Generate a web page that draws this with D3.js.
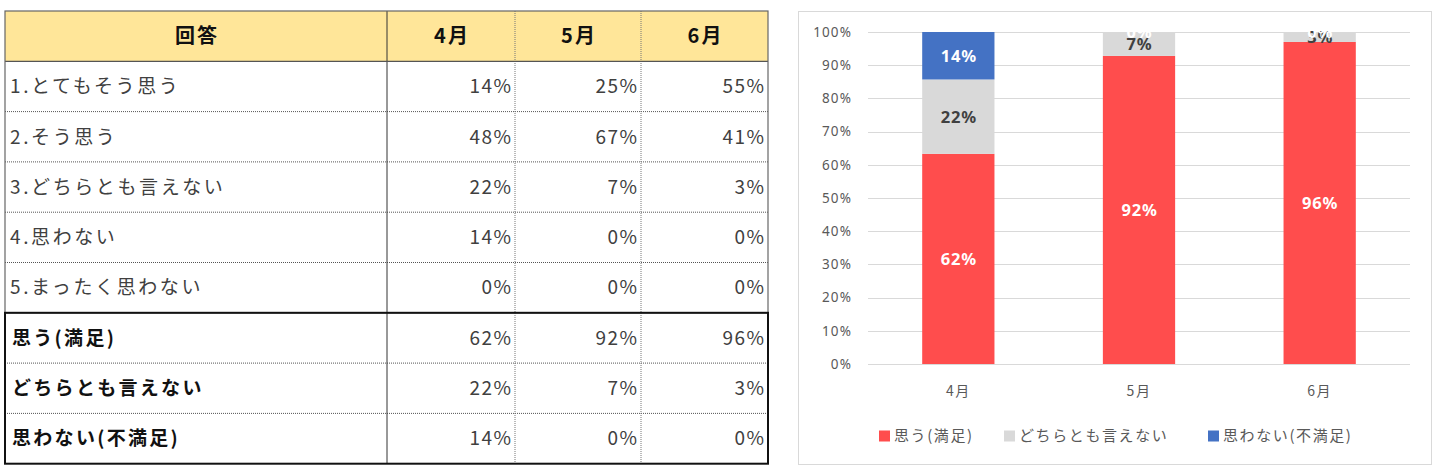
<!DOCTYPE html>
<html><head><meta charset="utf-8">
<script src="https://cdn.jsdelivr.net/npm/d3@7"></script>
<style>body{margin:0;background:#fff;}svg{display:block;}</style>
</head><body>
<svg id="c" width="1440" height="473"></svg>
<script>
// ---- data ----
const months = ["4月", "5月", "6月"];
const tableHeader = "回答";
const rowLabels = ["1.とてもそう思う", "2.そう思う", "3.どちらとも言えない", "4.思わない", "5.まったく思わない"];
const rowValues = [[14, 25, 55], [48, 67, 41], [22, 7, 3], [14, 0, 0], [0, 0, 0]];
const sumLabels = ["思う(満足)", "どちらとも言えない", "思わない(不満足)"];
const sumValues = [[62, 92, 96], [22, 7, 3], [14, 0, 0]];
const seriesNames = ["思う(満足)", "どちらとも言えない", "思わない(不満足)"];
const barValues = [[63.3, 92.8, 97.0], [22.4, 7.2, 3.0], [14.3, 0, 0]]; // bar heights as drawn
const barLabels = [["62%", "92%", "96%"], ["22%", "7%", "3%"], ["14%", "0%", "0%"]];
const yTicks = [0, 10, 20, 30, 40, 50, 60, 70, 80, 90, 100];
const colors = ["#FF4D4D", "#D9D9D9", "#4472C4"];
const labelColors = ["#fff", "#404040", "#fff"];

const svg = d3.select("#c");
const jp = "'Noto Sans CJK JP','Noto Sans',sans-serif";

// ---- table ----
const colX = [5, 387, 515, 641, 768];
const rowY = d3.range(0, 10).map(i => 11 + i * 50.3);
const T = svg.append("g");
T.append("rect").attr("x", colX[0]).attr("y", rowY[0]).attr("width", colX[4] - colX[0]).attr("height", rowY[1] - rowY[0]).attr("fill", "#FFE699");
// header texts
T.append("text").attr("x", (colX[0] + colX[1]) / 2 + 1).attr("y", (rowY[0] + rowY[1]) / 2).attr("dy", "0.36em")
  .attr("text-anchor", "middle").attr("font-family", jp).attr("font-weight", "bold").attr("font-size", 20).attr("letter-spacing", 2)
  .attr("fill", "#111").text(tableHeader);
months.forEach((m, j) => T.append("text").attr("x", (colX[j + 1] + colX[j + 2]) / 2 + 1).attr("y", (rowY[0] + rowY[1]) / 2).attr("dy", "0.36em")
  .attr("text-anchor", "middle").attr("font-family", jp).attr("font-weight", "bold").attr("font-size", 20).attr("letter-spacing", 2)
  .attr("fill", "#111").text(m));
const allLabels = rowLabels.concat(sumLabels);
const allValues = rowValues.concat(sumValues);
allLabels.forEach((lab, i) => {
  const bold = i >= rowLabels.length;
  const cy = (rowY[i + 1] + rowY[i + 2]) / 2;
  T.append("text").attr("x", colX[0] + (bold ? 7 : 5)).attr("y", cy).attr("dy", "0.36em")
    .attr("font-family", jp).attr("font-size", 19).attr("letter-spacing", bold ? 2.3 : 2.6).attr("font-weight", bold ? "bold" : "normal")
    .attr("fill", bold ? "#111" : "#404040").text(lab);
  allValues[i].forEach((v, j) => T.append("text").attr("x", colX[j + 2] - 4 + 1.5).attr("y", cy).attr("dy", "0.36em")
    .attr("text-anchor", "end").attr("font-family", jp).attr("font-size", 19).attr("letter-spacing", 1.5)
    .attr("fill", "#404040").text(v + "%"));
});
// horizontal dotted lines
for (let i = 2; i < 9; i++) {
  if (i === 6) continue;
  T.append("line").attr("x1", colX[0]).attr("x2", colX[4]).attr("y1", rowY[i]).attr("y2", rowY[i])
    .attr("stroke", "#555").attr("stroke-width", 1).attr("stroke-dasharray", "1,1");
}
// vertical dotted lines between months
[colX[2], colX[3]].forEach(x => T.append("line").attr("x1", x).attr("x2", x).attr("y1", rowY[0]).attr("y2", rowY[9])
  .attr("stroke", "#777").attr("stroke-width", 1).attr("stroke-dasharray", "1,1"));
// solid lines
T.append("line").attr("x1", colX[1]).attr("x2", colX[1]).attr("y1", rowY[0]).attr("y2", rowY[9]).attr("stroke", "#333").attr("stroke-width", 1);
T.append("line").attr("x1", colX[0]).attr("x2", colX[4]).attr("y1", rowY[1]).attr("y2", rowY[1]).attr("stroke", "#555").attr("stroke-width", 1.2);
T.append("rect").attr("x", colX[0]).attr("y", rowY[0]).attr("width", colX[4] - colX[0]).attr("height", rowY[6] - rowY[0])
  .attr("fill", "none").attr("stroke", "#666").attr("stroke-width", 1.2);
T.append("rect").attr("x", colX[0]).attr("y", rowY[6]).attr("width", colX[4] - colX[0]).attr("height", rowY[9] - rowY[6])
  .attr("fill", "none").attr("stroke", "#111").attr("stroke-width", 2);

// ---- chart ----
svg.append("rect").attr("x", 798.5).attr("y", 11.5).attr("width", 633).attr("height", 453)
  .attr("fill", "#fff").attr("stroke", "#D9D9D9").attr("stroke-width", 1);
const x = d3.scaleBand().domain(months).range([868, 1410]).paddingInner(0.6).paddingOuter(0.3);
const y = d3.scaleLinear().domain([0, 100]).range([364, 32]);
const G = svg.append("g");
G.selectAll("line.grid").data(yTicks).join("line").attr("class", "grid")
  .attr("x1", 868).attr("x2", 1410).attr("y1", d => Math.round(y(d)) + 0.5).attr("y2", d => Math.round(y(d)) + 0.5)
  .attr("stroke", "#D9D9D9").attr("stroke-width", 1);
const yAxis = G.append("g").attr("transform", "translate(868,0)")
  .call(d3.axisLeft(y).tickValues(yTicks).tickFormat(d => d + "%").tickSize(0).tickPadding(16));
yAxis.select(".domain").remove();
yAxis.selectAll("text").attr("font-family", "'Noto Sans',sans-serif").attr("font-size", 13.5).attr("letter-spacing", 1.1).attr("fill", "#595959");
const xAxis = G.append("g").attr("transform", "translate(0,364)")
  .call(d3.axisBottom(x).tickSize(0).tickPadding(22));
xAxis.select(".domain").remove();
xAxis.selectAll("text").attr("font-family", jp).attr("font-size", 14).attr("letter-spacing", 1.5).attr("fill", "#595959");

const stack = d3.stack().keys([0, 1, 2]).value((d, k) => barValues[k][d]);
const stacked = stack(d3.range(months.length));
stacked.forEach((layer, k) => {
  G.append("g").selectAll("rect").data(layer).join("rect")
    .attr("x", (d, i) => x(months[i])).attr("width", x.bandwidth())
    .attr("y", d => y(d[1])).attr("height", d => y(d[0]) - y(d[1])).attr("fill", colors[k]);
});
stacked.forEach((layer, k) => {
  G.append("g").selectAll("text").data(layer).join("text")
    .attr("x", (d, i) => x(months[i]) + x.bandwidth() / 2 + 0.5).attr("y", d => y((d[0] + d[1]) / 2)).attr("dy", "0.36em")
    .attr("text-anchor", "middle").attr("font-family", "'Noto Sans',sans-serif").attr("font-weight", "bold").attr("font-size", 16.5)
    .attr("letter-spacing", 0.8).attr("fill", labelColors[k]).text((d, i) => barLabels[k][i]);
});
// legend
const legX = [879, 1004, 1208];
seriesNames.forEach((n, k) => {
  const g = G.append("g").attr("transform", `translate(${legX[k]},436)`);
  g.append("rect").attr("x", 0).attr("y", -5.5).attr("width", 11).attr("height", 11).attr("fill", colors[k]);
  g.append("text").attr("x", 15).attr("y", 0).attr("dy", "0.36em").attr("font-family", jp).attr("font-size", 15)
    .attr("letter-spacing", 1.6).attr("fill", "#595959").text(n);
});
</script>
</body></html>
